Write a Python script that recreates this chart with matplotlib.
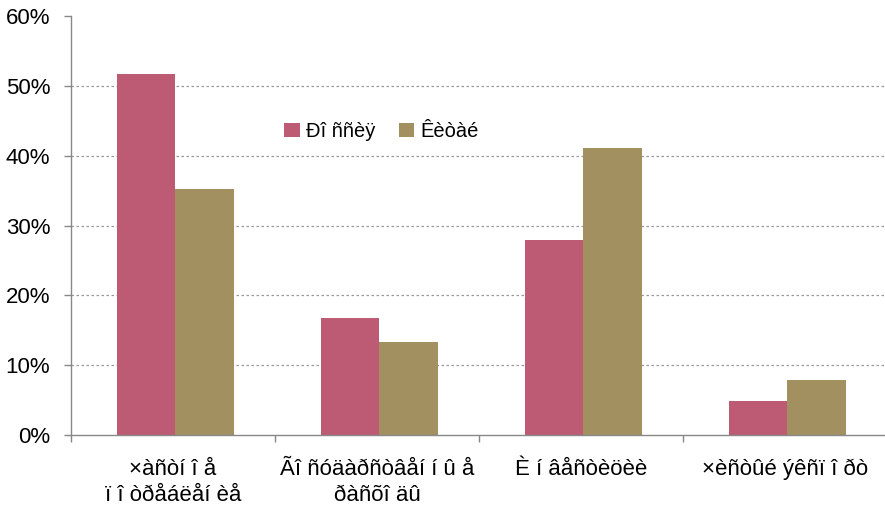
import matplotlib
matplotlib.use("Agg")
import matplotlib.pyplot as plt
import numpy as np
from matplotlib.ticker import FixedLocator, PercentFormatter

plt.rcParams['font.family'] = ['Liberation Sans', 'DejaVu Sans']

categories = ["×àñòí î å\nï î òðåáëåí èå", "Ãî ñóäàðñòâåí í û å\nðàñõî äû",
              "È í âåñòèöèè", "×èñòûé ýêñï î ðò"]
series_names = ["Ðî ññèÿ", "Êèòàé"]
russia = [51.7, 16.7, 27.9, 4.8]
china = [35.2, 13.3, 41.1, 7.9]
yticks = [0, 10, 20, 30, 40, 50, 60]

fig = plt.figure(figsize=(8.85, 5.12), dpi=100)
ax = fig.add_axes([71/885, 1-435/512, 1-71/885, (435-16)/512])

x = np.arange(len(categories))
w = 0.288
ax.bar(x - w/2 + 0.012, russia, width=w, color="#BE5B74", label=series_names[0])
ax.bar(x + w/2 + 0.012, china, width=w, color="#A39060", label=series_names[1])

ax.set_xlim(-0.5, 3.49)
ax.set_ylim(0, 60)
ax.set_yticks(yticks)
ax.yaxis.set_major_formatter(PercentFormatter(decimals=0))
for t in yticks[1:-1]:
    ax.axhline(t, color="#999999", lw=0.9, ls=(0, (2, 2)), zorder=0)

ax.set_xticks(x)
ax.set_xticklabels(categories, fontsize=16, linespacing=1.35)
ax.tick_params(axis='x', length=0, pad=17)
ax.xaxis.set_minor_locator(FixedLocator([-0.5, 0.5, 1.5, 2.5]))
ax.tick_params(axis='x', which='minor', length=5, color="#888888", width=1)
ax.tick_params(axis='y', length=5, color="#888888", width=1, labelsize=16, pad=10)

for s in ['top', 'right']:
    ax.spines[s].set_visible(False)
for s in ['left', 'bottom']:
    ax.spines[s].set_color("#888888")
    ax.spines[s].set_linewidth(1)

ax.legend(loc='upper left', bbox_to_anchor=(0.24, 0.79), ncol=2, frameon=False,
          fontsize=14.5, handlelength=0.75, handleheight=0.75, handletextpad=0.3,
          columnspacing=1.2)

fig.savefig("out.png", dpi=100)
